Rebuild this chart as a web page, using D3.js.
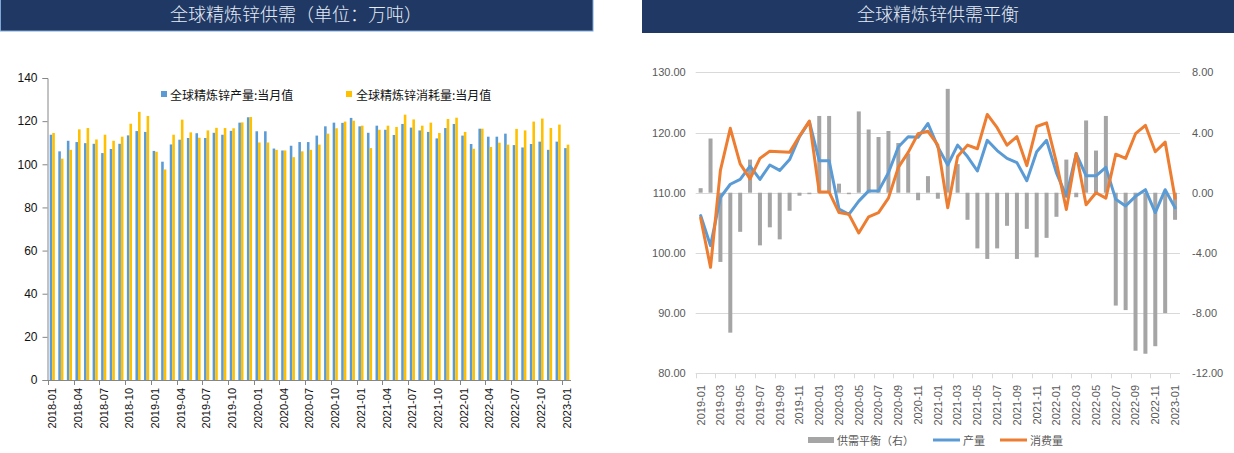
<!DOCTYPE html>
<html>
<head>
<meta charset="utf-8">
<script src="https://cdn.jsdelivr.net/npm/d3@7"></script>
<style>
  html, body { margin: 0; padding: 0; background: #ffffff; }
  svg { display: block; }
</style>
</head>
<body>
<svg id="chart" width="1234" height="453"></svg>
<script>
// ---------------- DATA ----------------
const months = [
  "2018-01","2018-02","2018-03","2018-04","2018-05","2018-06","2018-07","2018-08","2018-09","2018-10","2018-11","2018-12",
  "2019-01","2019-02","2019-03","2019-04","2019-05","2019-06","2019-07","2019-08","2019-09","2019-10","2019-11","2019-12",
  "2020-01","2020-02","2020-03","2020-04","2020-05","2020-06","2020-07","2020-08","2020-09","2020-10","2020-11","2020-12",
  "2021-01","2021-02","2021-03","2021-04","2021-05","2021-06","2021-07","2021-08","2021-09","2021-10","2021-11","2021-12",
  "2022-01","2022-02","2022-03","2022-04","2022-05","2022-06","2022-07","2022-08","2022-09","2022-10","2022-11","2022-12",
  "2023-01"
];
// 全球精炼锌产量:当月值 (万吨)
const production = [
  113.7,106.0,110.9,110.3,109.8,109.5,105.2,107.1,109.5,113.4,115.4,115.0,
  106.2,101.2,109.2,111.4,112.2,114.4,112.2,114.6,113.7,115.5,119.3,121.8,
  115.3,115.3,107.3,106.4,108.6,110.3,110.3,113.3,117.6,119.3,119.2,121.5,
  117.6,114.6,117.9,116.0,113.6,118.7,117.0,115.7,115.0,112.0,116.8,118.7,
  113.3,109.4,116.5,112.8,112.8,114.2,108.9,107.8,109.4,110.5,106.7,110.5,
  107.5
];
// 全球精炼锌消耗量:当月值 (万吨)
const consumption = [
  114.5,102.6,106.7,116.2,116.8,111.5,113.7,110.9,112.8,118.8,124.3,122.4,
  105.8,97.6,113.7,120.7,114.8,112.3,115.7,116.9,116.8,116.7,119.4,121.9,
  110.1,110.1,106.7,106.4,103.3,106.0,106.7,109.1,114.2,116.7,119.8,120.2,
  117.9,107.5,116.0,117.9,117.3,123.0,120.8,117.9,119.3,114.5,121.0,121.6,
  115.0,107.2,116.5,108.0,110.0,109.1,116.4,115.7,119.8,121.2,116.8,118.4,
  109.1
];
// Right chart: 2019-01 .. 2023-01
const balanceMonths = months.slice(12);
const balanceProduction = production.slice(12);
const balanceConsumption = consumption.slice(12);
// 供需平衡（右）
const balance = [
  0.3,3.6,-4.6,-9.3,-2.6,2.2,-3.5,-2.3,-3.1,-1.2,-0.2,-0.1,
  5.1,5.1,0.6,-0.1,5.4,4.2,3.7,4.1,3.3,2.6,-0.5,1.1,
  -0.4,6.9,1.9,-1.8,-3.7,-4.4,-3.7,-2.2,-4.4,-2.4,-4.3,-3.0,
  -1.6,2.2,-0.3,4.8,2.8,5.1,-7.5,-7.8,-10.5,-10.7,-10.2,-8.0,
  -1.8
];
const leftXTicks = ["2018-01","2018-04","2018-07","2018-10","2019-01","2019-04","2019-07","2019-10",
  "2020-01","2020-04","2020-07","2020-10","2021-01","2021-04","2021-07","2021-10",
  "2022-01","2022-04","2022-07","2022-10","2023-01"];
const rightXTicks = ["2019-01","2019-03","2019-05","2019-07","2019-09","2019-11",
  "2020-01","2020-03","2020-05","2020-07","2020-09","2020-11",
  "2021-01","2021-03","2021-05","2021-07","2021-09","2021-11",
  "2022-01","2022-03","2022-05","2022-07","2022-09","2022-11","2023-01"];
const leftYTicks = [0,20,40,60,80,100,120,140];
const rightLeftTicks = [80,90,100,110,120,130];
const rightRightTicks = [-12,-8,-4,0,4,8];

const leftTitle = "全球精炼锌供需（单位：万吨）";
const rightTitle = "全球精炼锌供需平衡";
const leftLegend = ["全球精炼锌产量:当月值","全球精炼锌消耗量:当月值"];
const rightLegend = ["供需平衡（右）","产量","消费量"];

// ---------------- DRAW ----------------
const svg = d3.select("#chart");
const cjk = "'Noto Sans CJK SC','Noto Sans',sans-serif";
const latin = "'Liberation Sans',Arial,'Noto Sans CJK SC',sans-serif";
const BLUE = "#5B9BD5", YELLOW = "#FFC000", ORANGE = "#ED7D31", GREY = "#A5A5A5";

// Title banners
svg.append("rect").attr("x",0.5).attr("y",-1).attr("width",592.5).attr("height",32)
  .attr("fill","#1F3864").attr("stroke","#7EA6D6").attr("stroke-width",1);
svg.append("text").attr("x",296).attr("y",12.5).attr("text-anchor","middle")
  .attr("dominant-baseline","central").attr("font-family",cjk).attr("font-size",18).attr("font-weight",300)
  .attr("fill","#E6ECF5").text(leftTitle);
svg.append("rect").attr("x",642).attr("y",0).attr("width",592).attr("height",33)
  .attr("fill","#1F3864");
svg.append("text").attr("x",938).attr("y",12.5).attr("text-anchor","middle")
  .attr("dominant-baseline","central").attr("font-family",cjk).attr("font-size",18).attr("font-weight",300)
  .attr("fill","#E6ECF5").text(rightTitle);

// ===== Left chart =====
const lx = d3.scaleBand().domain(months).range([48, 571]).padding(0);
const ly = d3.scaleLinear().domain([0,140]).range([380, 78]);
const bw = lx.bandwidth();
const L = svg.append("g");

L.append("g").selectAll("rect").data(months).join("rect")
  .attr("x", d => lx(d) + bw*0.2).attr("width", bw*0.3)
  .attr("y", (d,i) => ly(production[i])).attr("height", (d,i) => ly(0) - ly(production[i]))
  .attr("fill", BLUE);
L.append("g").selectAll("rect").data(months).join("rect")
  .attr("x", d => lx(d) + bw*0.5).attr("width", bw*0.3)
  .attr("y", (d,i) => ly(consumption[i])).attr("height", (d,i) => ly(0) - ly(consumption[i]))
  .attr("fill", YELLOW);

// y axis
const lyAxis = L.append("g").attr("transform","translate(47.5,0)")
  .call(d3.axisLeft(ly).tickValues(leftYTicks).tickSize(5).tickPadding(5).tickFormat(d3.format("d")));
lyAxis.select(".domain").attr("stroke","#868686");
lyAxis.selectAll(".tick line").attr("stroke","#868686");
lyAxis.selectAll("text").attr("font-family",latin).attr("font-size",12).attr("fill","#111");

// x axis
L.append("line").attr("x1",47.5).attr("x2",571).attr("y1",ly(0)+0.5).attr("y2",ly(0)+0.5)
  .attr("stroke","#868686");
L.append("g").selectAll("line").data(leftXTicks).join("line")
  .attr("x1", d => Math.round(lx(d))+0.5).attr("x2", d => Math.round(lx(d))+0.5)
  .attr("y1", ly(0)).attr("y2", ly(0)+5).attr("stroke","#868686");
L.append("g").selectAll("text").data(leftXTicks).join("text")
  .attr("transform", d => `translate(${lx(d)+bw/2},388) rotate(-90)`)
  .attr("text-anchor","end").attr("dy","0.35em")
  .attr("font-family",latin).attr("font-size",11).attr("fill","#111").text(d => d);

// legend
const lleg = L.append("g");
lleg.append("rect").attr("x",161).attr("y",91).attr("width",6).attr("height",6).attr("fill",BLUE);
lleg.append("text").attr("x",170).attr("y",94).attr("dominant-baseline","central")
  .attr("font-family",cjk).attr("font-size",12).attr("fill","#111").text(leftLegend[0]);
lleg.append("rect").attr("x",346).attr("y",91).attr("width",6).attr("height",6).attr("fill",YELLOW);
lleg.append("text").attr("x",356).attr("y",94).attr("dominant-baseline","central")
  .attr("font-family",cjk).attr("font-size",12).attr("fill","#111").text(leftLegend[1]);

// ===== Right chart =====
const rx = d3.scaleBand().domain(balanceMonths).range([695.7, 1180]).padding(0);
const ryL = d3.scaleLinear().domain([80,130]).range([373.3, 72.3]);
const ryR = d3.scaleLinear().domain([-12,8]).range([373.3, 72.3]);
const rbw = rx.bandwidth();
const R = svg.append("g");

// gridlines
R.append("g").selectAll("line").data(rightLeftTicks.filter(d => d !== 80)).join("line")
  .attr("x1",695.7).attr("x2",1180)
  .attr("y1", d => Math.round(ryL(d))+0.5).attr("y2", d => Math.round(ryL(d))+0.5)
  .attr("stroke","#D9D9D9").attr("stroke-width",1);

// balance bars
R.append("g").selectAll("rect").data(balanceMonths).join("rect")
  .attr("x", d => rx(d) + rbw/2 - 2).attr("width", 4)
  .attr("y", (d,i) => Math.min(ryR(0), ryR(balance[i])))
  .attr("height", (d,i) => Math.abs(ryR(0) - ryR(balance[i])))
  .attr("fill", GREY);

// bottom axis
R.append("line").attr("x1",695.7).attr("x2",1180)
  .attr("y1", Math.round(ryL(80))+0.5).attr("y2", Math.round(ryL(80))+0.5).attr("stroke","#D9D9D9");
R.append("g").selectAll("line").data(rightXTicks).join("line")
  .attr("x1", d => Math.round(rx(d))+0.5).attr("x2", d => Math.round(rx(d))+0.5)
  .attr("y1", ryL(80)).attr("y2", ryL(80)+5).attr("stroke","#D9D9D9");
R.append("g").selectAll("text").data(rightXTicks).join("text")
  .attr("transform", d => `translate(${rx(d)+rbw/2},385) rotate(-90)`)
  .attr("text-anchor","end").attr("dy","0.35em")
  .attr("font-family",latin).attr("font-size",11).attr("fill","#595959").text(d => d);

// lines
const lineGen = arr => d3.line().x((d,i) => rx(balanceMonths[i]) + rbw/2).y(d => ryL(d))(arr);
R.append("path").attr("d", lineGen(balanceProduction)).attr("fill","none")
  .attr("stroke",BLUE).attr("stroke-width",3).attr("stroke-linejoin","round").attr("stroke-linecap","round");
R.append("path").attr("d", lineGen(balanceConsumption)).attr("fill","none")
  .attr("stroke",ORANGE).attr("stroke-width",3).attr("stroke-linejoin","round").attr("stroke-linecap","round");

// left axis labels
const ryLAxis = R.append("g").attr("transform","translate(695.7,0)")
  .call(d3.axisLeft(ryL).tickValues(rightLeftTicks).tickSize(0).tickPadding(10).tickFormat(d => d.toFixed(2)));
ryLAxis.select(".domain").remove();
ryLAxis.selectAll("text").attr("font-family",latin).attr("font-size",11).attr("fill","#595959");

// right axis labels
const ryRAxis = R.append("g").attr("transform","translate(1180,0)")
  .call(d3.axisRight(ryR).tickValues(rightRightTicks).tickSize(0).tickPadding(12).tickFormat(d => d.toFixed(2)));
ryRAxis.select(".domain").remove();
ryRAxis.selectAll("text").attr("font-family",latin).attr("font-size",11).attr("fill","#595959");

// legend
const rleg = R.append("g");
rleg.append("rect").attr("x",808).attr("y",437).attr("width",26).attr("height",6).attr("fill",GREY);
rleg.append("text").attr("x",837).attr("y",440).attr("dominant-baseline","central")
  .attr("font-family",cjk).attr("font-size",11).attr("fill","#595959").text(rightLegend[0]);
rleg.append("line").attr("x1",933).attr("x2",960).attr("y1",440).attr("y2",440)
  .attr("stroke",BLUE).attr("stroke-width",3);
rleg.append("text").attr("x",963).attr("y",440).attr("dominant-baseline","central")
  .attr("font-family",cjk).attr("font-size",11).attr("fill","#595959").text(rightLegend[1]);
rleg.append("line").attr("x1",1000).attr("x2",1027).attr("y1",440).attr("y2",440)
  .attr("stroke",ORANGE).attr("stroke-width",3);
rleg.append("text").attr("x",1030).attr("y",440).attr("dominant-baseline","central")
  .attr("font-family",cjk).attr("font-size",11).attr("fill","#595959").text(rightLegend[2]);
</script>
</body>
</html>
